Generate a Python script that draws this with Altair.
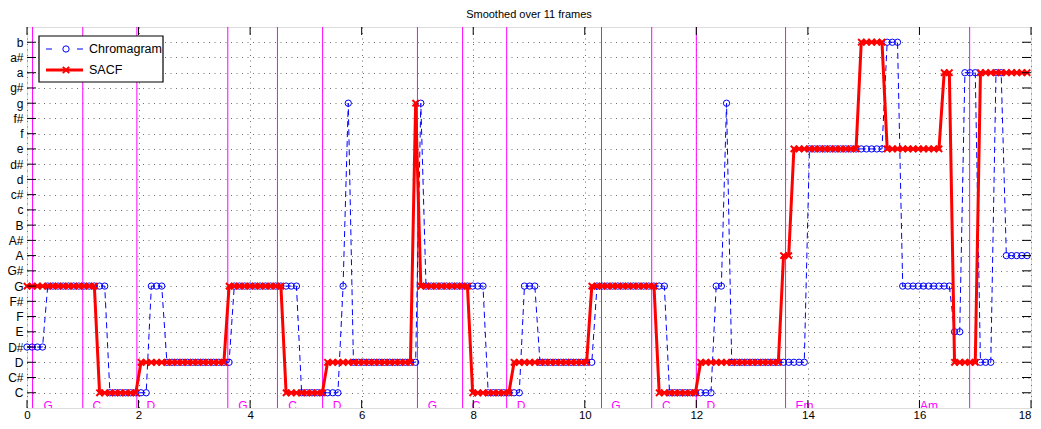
import json
import altair as alt
import pandas as pd

# ---------------- data ----------------
NOTES = ["C", "C#", "D", "D#", "E", "F", "F#", "G", "G#", "A", "A#", "B",
         "c", "c#", "d", "d#", "e", "f", "f#", "g", "g#", "a", "a#", "b"]
FRAME_STEP = 0.0929  # seconds per analysis frame

# run-length description of the per-frame pitch estimates (note, number of frames)
chroma_notes = ["D#", "G", "C", "G", "D", "G", "C", "G", "g", "D", "g", "G", "C", "G",
                "D", "G", "C", "G", "g", "D", "e", "b", "G", "E", "a", "D", "a", "A"]
chroma_frames = [4, 12, 8, 3, 13, 13, 8, 1, 1, 13, 1, 12, 7, 3,
                 11, 14, 9, 2, 1, 15, 15, 3, 10, 2, 3, 3, 2, 5]

sacf_notes = ["G", "C", "D", "G", "C", "D", "g", "G", "C", "D", "G", "C", "D", "A",
              "e", "b", "e", "a", "D", "a"]
sacf_frames = [14, 8, 17, 11, 8, 17, 1, 10, 8, 15, 13, 8, 16, 2,
               13, 5, 11, 2, 5, 10]

chord_boundary_time = [0.10, 1.0, 1.97, 3.6, 4.49, 5.3, 7.0, 7.81, 8.6, 10.3, 11.2, 12.0, 13.6, 16.9]
chord_names = ["G", "C", "D", "G", "C", "D", "G", "C", "D", "G", "C", "D", "Em", "Am"]
chord_label_time = [0.38, 1.25, 2.22, 3.87, 4.76, 5.56, 7.27, 8.05, 8.86, 10.56, 11.46, 12.26, 13.94, 16.17]

x_tick_values = [0, 2, 4, 6, 8, 10, 12, 14, 16, 18]


def expand(notes, frames):
    rows = []
    k = 0
    for n, c in zip(notes, frames):
        for _ in range(c):
            rows.append({"t": k * FRAME_STEP, "idx": NOTES.index(n), "k": k})
            k += 1
    return pd.DataFrame(rows)


chroma_df = expand(chroma_notes, chroma_frames)
sacf_df = expand(sacf_notes, sacf_frames)
bound_df = pd.DataFrame({"t": chord_boundary_time})
label_df = pd.DataFrame({"t": chord_label_time, "name": chord_names})
ytick_df = pd.DataFrame({"idx": list(range(len(NOTES)))})
xtick_df = pd.DataFrame({"t": x_tick_values})
one = pd.DataFrame({"a": [0]})

# ---------------- styling ----------------
W, H = 1004, 381
FONT = "Liberation Sans"
BLUE = "#0000FF"
RED = "#FF0000"
MAGENTA = "#FF00FF"
GRID = "#707070"

xscale = alt.Scale(domain=[0, 18], nice=False, zero=False)
yscale = alt.Scale(domain=[-1, 24], nice=False, zero=False)
label_expr = json.dumps(NOTES) + "[datum.value]"

xaxis = alt.Axis(
    values=x_tick_values, title=None, grid=True, gridDash=[1, 4.5], gridColor=GRID,
    gridOpacity=1, ticks=False, domain=False, labelPadding=1, labelFontSize=11.5,
    labelFont=FONT, labelColor="black", labelFlush=False, labelBaseline="top",
    labelAlign={"condition": {"test": "datum.value == 18", "value": "right"}, "value": "center"},
)
yaxis = alt.Axis(
    values=list(range(len(NOTES))), labelExpr=label_expr, title=None, grid=True,
    gridDash=[1, 4.5], gridColor=GRID, gridOpacity=1, ticks=False, domain=False,
    labelPadding=4, labelFontSize=12, labelFont=FONT, labelColor="black",
)


def X(field="t"):
    return alt.X(f"{field}:Q", scale=xscale, axis=xaxis)


def Y(field="idx"):
    return alt.Y(f"{field}:Q", scale=yscale, axis=yaxis)


bounds = alt.Chart(bound_df).mark_rule(color=MAGENTA, strokeWidth=1).encode(x=X())

chroma_line = alt.Chart(chroma_df).mark_line(color=BLUE, strokeWidth=1, strokeDash=[6, 4]).encode(
    x=X(), y=Y(), order="k:Q",
)
chroma_pts = alt.Chart(chroma_df).mark_point(
    shape="circle", filled=False, color=BLUE, size=40, strokeWidth=1, opacity=1
).encode(x=X(), y=Y())

sacf_line = alt.Chart(sacf_df).mark_line(color=RED, strokeWidth=3).encode(
    x=X(), y=Y(), order="k:Q",
)
XSHAPE = "M-1,-1L1,1M-1,1L1,-1"
sacf_pts = alt.Chart(sacf_df).mark_point(
    shape=XSHAPE, filled=False, color=RED, size=40, strokeWidth=2, opacity=1
).encode(x=X(), y=Y())

labels = alt.Chart(label_df).mark_text(
    color=MAGENTA, fontSize=12, font=FONT, baseline="alphabetic", align="center", clip=True
).encode(x=X(), y=alt.value(H + 1.5), text="name:N")

# inward ticks (Matlab style box)
ytl = alt.Chart(ytick_df).mark_rule(color="black").encode(
    y=Y(), x=alt.value(0), x2=alt.value(9))
ytr = alt.Chart(ytick_df).mark_rule(color="black").encode(
    y=Y(), x=alt.value(W - 9), x2=alt.value(W))
xtb = alt.Chart(xtick_df).mark_rule(color="black").encode(
    x=X(), y=alt.value(H - 8), y2=alt.value(H))
xtt = alt.Chart(xtick_df).mark_rule(color="black").encode(
    x=X(), y=alt.value(0), y2=alt.value(8))

# legend box
leg_box = alt.Chart(one).mark_rect(fill="white", stroke="black", strokeWidth=1.2).encode(
    x=alt.value(12), x2=alt.value(136), y=alt.value(9), y2=alt.value(55))
leg_c1 = alt.Chart(one).mark_rule(color=BLUE, strokeWidth=1).encode(
    x=alt.value(19), x2=alt.value(25), y=alt.value(22))
leg_c2 = alt.Chart(one).mark_rule(color=BLUE, strokeWidth=1).encode(
    x=alt.value(50), x2=alt.value(56), y=alt.value(22))
leg_cp = alt.Chart(one).mark_point(shape="circle", filled=False, color=BLUE, size=40,
                                   strokeWidth=1, opacity=1).encode(
    x=alt.value(39), y=alt.value(22))
leg_s = alt.Chart(one).mark_rule(color=RED, strokeWidth=3).encode(
    x=alt.value(19), x2=alt.value(56), y=alt.value(43))
leg_sp = alt.Chart(one).mark_point(shape=XSHAPE, filled=False, color=RED, size=40,
                                   strokeWidth=2, opacity=1).encode(
    x=alt.value(39), y=alt.value(43))
leg_t1 = alt.Chart(one).mark_text(text="Chromagram", align="left", baseline="middle",
                                  fontSize=12.5, font=FONT, color="black").encode(
    x=alt.value(62), y=alt.value(22))
leg_t2 = alt.Chart(one).mark_text(text="SACF", align="left", baseline="middle",
                                  fontSize=12.5, font=FONT, color="black").encode(
    x=alt.value(62), y=alt.value(43))

chart = alt.layer(
    bounds, chroma_line, chroma_pts, sacf_line, sacf_pts, labels,
    ytl, ytr, xtb, xtt,
    leg_box, leg_c1, leg_c2, leg_cp, leg_s, leg_sp, leg_t1, leg_t2,
).properties(
    width=W, height=H,
    title=alt.TitleParams("Smoothed over 11 frames", fontSize=11, fontWeight="normal",
                          font=FONT, anchor="middle", offset=7, color="black"),
    autosize=alt.AutoSizeParams(type="none"),
    padding={"left": 19, "top": 19, "right": 2, "bottom": 13},
).configure_view(
    stroke="black", strokeWidth=1
).configure(background="white")

chart.save("out.html", embed_options={"renderer": "svg", "actions": False})
